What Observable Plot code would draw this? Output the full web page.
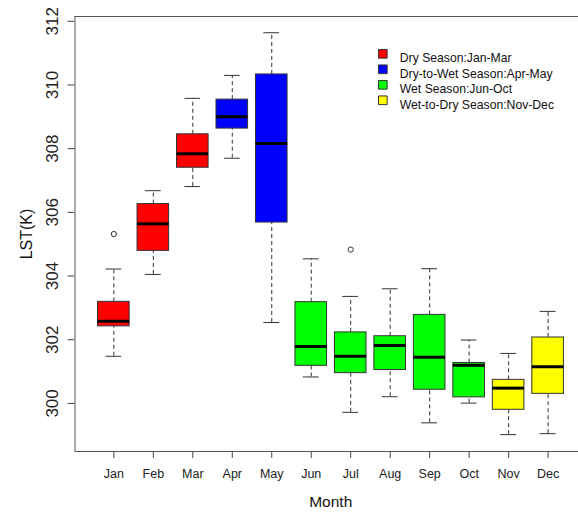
<!DOCTYPE html>
<html><head><meta charset="utf-8">
<script src="https://cdn.jsdelivr.net/npm/d3@7"></script>
<script src="https://cdn.jsdelivr.net/npm/@observablehq/plot@0.6"></script>
<style>body{margin:0;background:#fff;overflow:hidden}</style>
</head><body><div id="chart"></div>
<script>
const months = ["Jan","Feb","Mar","Apr","May","Jun","Jul","Aug","Sep","Oct","Nov","Dec"];
const q1     = [302.42, 304.79, 307.40, 308.63, 305.68, 301.18, 300.95, 301.05, 300.43, 300.19, 299.80, 300.30];
const median = [302.58, 305.64, 307.84, 309.00, 308.16, 301.79, 301.48, 301.82, 301.45, 301.20, 300.48, 301.15];
const q3     = [303.19, 306.26, 308.45, 309.54, 310.33, 303.18, 302.23, 302.11, 302.78, 301.27, 300.74, 302.07];
const whiskerLo = [301.48, 304.05, 306.81, 307.70, 302.54, 300.83, 299.72, 300.21, 299.39, 300.01, 299.02, 299.05];
const whiskerHi = [304.22, 306.68, 309.58, 310.30, 311.64, 304.54, 303.36, 303.60, 304.23, 301.99, 301.57, 302.89];
const outlierMonth = ["Jan", "Jul"];
const outlierValue = [305.32, 304.83];
const monthSeason = [0,0,0,1,1,2,2,2,2,2,3,3];
const seasons = ["Dry Season:Jan-Mar","Dry-to-Wet Season:Apr-May","Wet Season:Jun-Oct","Wet-to-Dry Season:Nov-Dec"];
const seasonColors = ["#ff0000","#0000ff","#00ff00","#ffff00"];
const yTicks = [300,302,304,306,308,310,312];
const xDomain = [0.016, 12.98];
const yDomain = [298.49, 312.15];

const rows = months.map((m,i) => ({i: i+1, month: m, q1: q1[i], median: median[i], q3: q3[i],
  lo: whiskerLo[i], hi: whiskerHi[i], color: seasonColors[monthSeason[i]]}));
const outliers = outlierMonth.map((m,k) => ({i: months.indexOf(m)+1, v: outlierValue[k]}));

const font = "'Liberation Sans', Arial, Helvetica, sans-serif";
const legend = seasons.flatMap((s,k) => [
  Plot.dot([s], {frameAnchor: "top-left", dx: 307.8, dy: 37.3 + k*15.5, symbol: "square", r: 4.9,
    fill: seasonColors[k], stroke: "#333", strokeWidth: 1}),
  Plot.text([s], {frameAnchor: "top-left", dx: 324.8, dy: 37.3 + k*15.5, text: d => d,
    textAnchor: "start", fontSize: 12.2, fill: "#111"})
]);

const chart = Plot.plot({
  width: 578, height: 516,
  marginLeft: 74.5, marginRight: 0, marginTop: 16, marginBottom: 65,
  x: {type: "linear", domain: xDomain, range: [74.5, 586.3]},
  y: {domain: yDomain},
  color: {type: "identity"},
  style: {fontFamily: font, background: "white", color: "#222"},
  marks: [
    Plot.ruleX(rows, {x: "i", y1: "q3", y2: "hi", stroke: "#333", strokeDasharray: "4,3"}),
    Plot.ruleX(rows, {x: "i", y1: "lo", y2: "q1", stroke: "#333", strokeDasharray: "4,3"}),
    Plot.ruleY(rows, {y: "hi", x1: d => d.i - 0.2, x2: d => d.i + 0.2, stroke: "#333"}),
    Plot.ruleY(rows, {y: "lo", x1: d => d.i - 0.2, x2: d => d.i + 0.2, stroke: "#333"}),
    Plot.rect(rows, {x1: d => d.i - 0.4, x2: d => d.i + 0.4, y1: "q1", y2: "q3", fill: "color", stroke: "#333", strokeWidth: 1}),
    Plot.ruleY(rows, {y: "median", x1: d => d.i - 0.4, x2: d => d.i + 0.4, stroke: "black", strokeWidth: 3}),
    Plot.dot(outliers, {x: "i", y: "v", r: 2.6, stroke: "#333", fill: "none", strokeWidth: 1}),
    Plot.ruleY(yDomain, {stroke: "#555"}),
    Plot.ruleX([xDomain[0]], {stroke: "#555"}),
    Plot.axisX({ticks: d3.range(1, 13), tickFormat: i => months[i-1], tickSize: 7, tickPadding: 11,
      fontSize: 12.5, label: null, stroke: "#444", fill: "#222"}),
    Plot.axisY({ticks: yTicks, tickSize: 7, tickFormat: () => "", label: null, stroke: "#444"}),
    Plot.text(yTicks, {y: d => d, frameAnchor: "left", dx: -17.5, rotate: -90, lineAnchor: "bottom",
      textAnchor: "middle", text: d => String(d), fontSize: 17, fill: "#222"}),
    Plot.text(["LST(K)"], {frameAnchor: "left", dx: -43, rotate: -90, lineAnchor: "bottom",
      textAnchor: "middle", text: d => d, fontSize: 16, fill: "#111"}),
    Plot.text(["Month"], {frameAnchor: "bottom", dx: 4, dy: 55, lineAnchor: "bottom",
      textAnchor: "middle", text: d => d, fontSize: 15.5, fill: "#111"}),
    ...legend
  ]
});
document.getElementById("chart").appendChild(chart);
</script></body></html>
